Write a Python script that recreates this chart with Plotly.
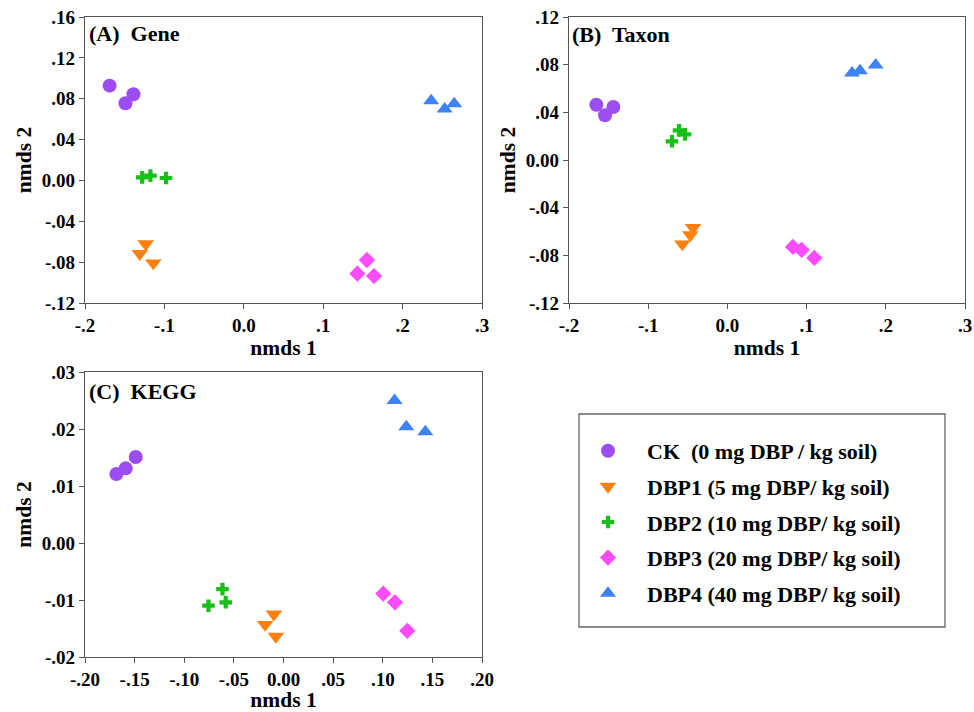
import plotly.graph_objects as go

W, H = 974, 712

groups = ["CK\u00a0 (0 mg DBP / kg soil)", "DBP1 (5 mg DBP/ kg soil)", "DBP2 (10 mg DBP/ kg soil)",
          "DBP3 (20 mg DBP/ kg soil)", "DBP4 (40 mg DBP/ kg soil)"]
colors = ["#9B4DF2", "#FF800E", "#17C017", "#FF4BFF", "#3F82F5"]
symbols = ["circle", "triangle-down", "cross", "diamond", "triangle-up"]
sizes = [14, 14.5, 10.5, 12.5, 14]

# (A) Gene
gene_x = [[-0.169, -0.149, -0.139], [-0.1235, -0.131, -0.114], [-0.128, -0.1176, -0.098],
          [0.155, 0.143, 0.164], [0.236, 0.253, 0.265]]
gene_y = [[0.0928, 0.0755, 0.0843], [-0.0622, -0.0717, -0.0809], [0.0030, 0.0047, 0.0024],
          [-0.0779, -0.0913, -0.0936], [0.0781, 0.0699, 0.0751]]
# (B) Taxon
taxon_x = [[-0.1655, -0.1545, -0.144], [-0.0434, -0.0468, -0.0569], [-0.070, -0.0611, -0.0535],
           [0.0828, 0.0938, 0.1098], [0.1573, 0.1674, 0.1872]]
taxon_y = [[0.0464, 0.0375, 0.0445], [-0.0568, -0.0629, -0.0705], [0.0157, 0.0249, 0.0215],
           [-0.0730, -0.0755, -0.0822], [0.0730, 0.0750, 0.0797]]
# (C) KEGG
kegg_x = [[-0.1684, -0.159, -0.1489], [-0.0097, -0.0185, -0.0077], [-0.0615, -0.0582, -0.0756],
          [0.1005, 0.1123, 0.1247], [0.1119, 0.1237, 0.1429]]
kegg_y = [[0.0121, 0.0131, 0.0151], [-0.0125, -0.0143, -0.0164], [-0.0081, -0.0104, -0.0110],
          [-0.0089, -0.0104, -0.0154], [0.0250, 0.0204, 0.0195]]

ab_xticks = [-0.2, -0.1, 0.0, 0.1, 0.2, 0.3]
ab_xtext = ["-.2", "-.1", "0.0", ".1", ".2", ".3"]
a_yticks = [-0.12, -0.08, -0.04, 0.0, 0.04, 0.08, 0.12, 0.16]
a_ytext = ["-.12", "-.08", "-.04", "0.00", ".04", ".08", ".12", ".16"]
b_yticks = [-0.12, -0.08, -0.04, 0.0, 0.04, 0.08, 0.12]
b_ytext = ["-.12", "-.08", "-.04", "0.00", ".04", ".08", ".12"]
c_xticks = [-0.20, -0.15, -0.10, -0.05, 0.0, 0.05, 0.10, 0.15, 0.20]
c_xtext = ["-.20", "-.15", "-.10", "-.05", "0.00", ".05", ".10", ".15", ".20"]
c_yticks = [-0.02, -0.01, 0.0, 0.01, 0.02, 0.03]
c_ytext = ["-.02", "-.01", "0.00", ".01", ".02", ".03"]

FONT = "Liberation Serif"

def bold(lst):
    return ["<b>%s</b>" % t for t in lst]

def px_x(p):
    return p / W

def px_y(p):
    return 1 - p / H

fig = go.Figure()

panels = [
    ("x", "y", gene_x, gene_y, True),
    ("x2", "y2", taxon_x, taxon_y, False),
    ("x3", "y3", kegg_x, kegg_y, False),
]
for xa, ya, xs, ys, show in panels:
    for i, g in enumerate(groups):
        fig.add_trace(go.Scatter(
            x=xs[i], y=ys[i], mode="markers", xaxis=xa, yaxis=ya,
            name="<b>%s</b>" % g, legendgroup=g, showlegend=show,
            marker=dict(symbol=symbols[i], size=sizes[i], color=colors[i], line=dict(width=0)),
        ))

def axis_common():
    return dict(
        showgrid=False, zeroline=False, showline=True, linecolor="#555555", linewidth=1.3,
        mirror=True, ticks="outside", ticklen=5, tickwidth=1.3, tickcolor="#555555",
        automargin=False,
        tickfont=dict(family=FONT, size=19, color="black"),
    )

def xaxis(domain, rng, tv, tt, anchor):
    d = axis_common()
    d.update(domain=domain, range=rng, tickvals=tv, ticktext=bold(tt), anchor=anchor,
             title=dict(text="<b>nmds 1</b>", standoff=4,
                        font=dict(family=FONT, size=21.5, color="black")))
    return d

def yaxis(domain, rng, tv, tt, anchor):
    d = axis_common()
    d.update(domain=domain, range=rng, tickvals=tv, ticktext=bold(tt), anchor=anchor,
             title=dict(text="<b>nmds 2</b>", standoff=4,
                        font=dict(family=FONT, size=21.5, color="black")))
    return d

A_x = [px_x(85), px_x(482)]
B_x = [px_x(569), px_x(965)]
AB_y = [px_y(303), px_y(17)]
C_y = [px_y(657), px_y(372)]

fig.update_layout(
    width=W, height=H, autosize=False, margin=dict(l=0, r=0, t=0, b=0, pad=0),
    paper_bgcolor="white", plot_bgcolor="white",
    font=dict(family=FONT, color="black"),
    xaxis=xaxis(A_x, [-0.2, 0.3], ab_xticks, ab_xtext, "y"),
    yaxis=yaxis(AB_y, [-0.12, 0.16], a_yticks, a_ytext, "x"),
    xaxis2=xaxis(B_x, [-0.2, 0.3], ab_xticks, ab_xtext, "y2"),
    yaxis2=yaxis(AB_y, [-0.12, 0.12], b_yticks, b_ytext, "x2"),
    xaxis3=xaxis(A_x, [-0.2, 0.2], c_xticks, c_xtext, "y3"),
    yaxis3=yaxis(C_y, [-0.02, 0.03], c_yticks, c_ytext, "x3"),
    legend=dict(
        x=px_x(569), y=px_y(430), xanchor="left", yanchor="top",
        font=dict(family=FONT, size=22, color="black"),
        bgcolor="rgba(0,0,0,0)", borderwidth=0,
        itemwidth=68, tracegroupgap=4, traceorder="grouped",
    ),
    shapes=[dict(type="rect", xref="paper", yref="paper",
                 x0=px_x(579), x1=px_x(945), y0=px_y(627), y1=px_y(414),
                 line=dict(color="#666666", width=1.3))],
    annotations=[
        dict(text="<b>(A)\u00a0 Gene</b>", xref="paper", yref="paper", x=px_x(87), y=px_y(33),
             xanchor="left", yanchor="middle", showarrow=False, font=dict(family=FONT, size=22)),
        dict(text="<b>(B)\u00a0 Taxon</b>", xref="paper", yref="paper", x=px_x(570), y=px_y(35),
             xanchor="left", yanchor="middle", showarrow=False, font=dict(family=FONT, size=22)),
        dict(text="<b>(C)\u00a0 KEGG</b>", xref="paper", yref="paper", x=px_x(87), y=px_y(391),
             xanchor="left", yanchor="middle", showarrow=False, font=dict(family=FONT, size=22)),
    ],
)

fig.write_html("out.html")
